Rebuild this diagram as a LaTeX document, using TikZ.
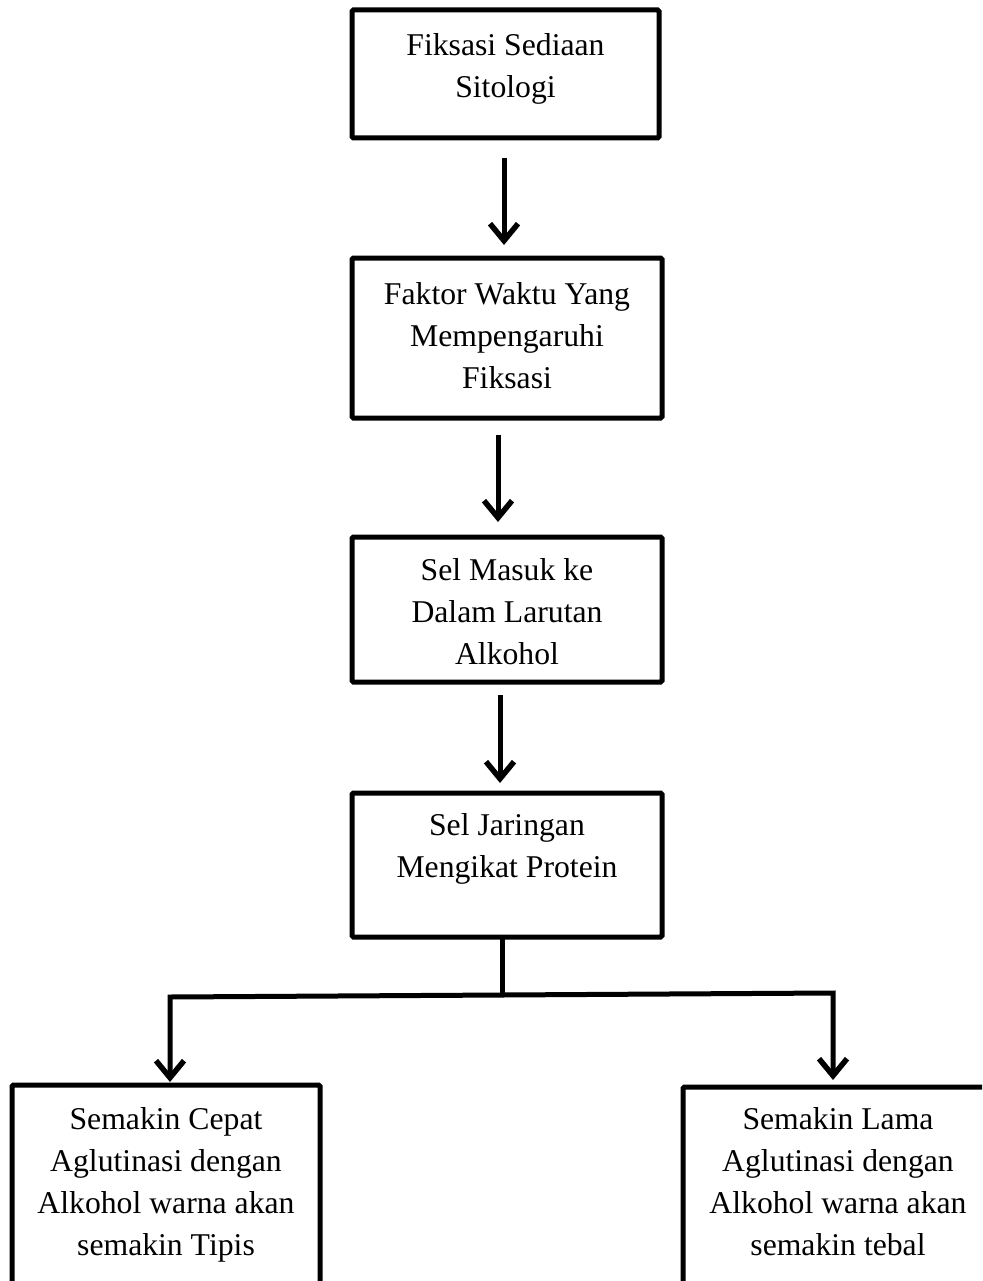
\documentclass[tikz,border=0pt]{standalone}
\usepackage{fontspec}
\setmainfont{Liberation Serif}
\usetikzlibrary{arrows.meta}
\begin{document}
\begin{tikzpicture}[x=1pt,y=-1pt,
  box/.style={draw, line width=5pt, inner sep=0pt, outer sep=0pt, rounded corners=1.5pt},
  txt/.style={align=center, font=\fontsize{31.7}{42}\selectfont, inner sep=0pt},
  arr/.style={line width=5pt, line join=miter,
    -{Straight Barb[length=17pt,width=28pt,line width=5.5pt]}},
  plain/.style={line width=5pt, line join=miter}]
\useasboundingbox (0,0) rectangle (982,1281);
\clip (0,0) rectangle (982,1281);

% boxes
\node[box, minimum width=307pt, minimum height=128pt] (b1) at (505.5,74) {};
\node[box, minimum width=310pt, minimum height=160pt] (b2) at (507,338) {};
\node[box, minimum width=310pt, minimum height=145pt] (b3) at (507,609.5) {};
\node[box, minimum width=310pt, minimum height=144pt] (b4) at (507,865) {};
\node[box, minimum width=308pt, minimum height=235pt] (b5) at (166,1202.5) {};
\node[box, minimum width=310pt, minimum height=233pt] (b6) at (838,1203.5) {};

% texts
\node[txt] (t1) at (505.5,69) {Fiksasi Sediaan\\Sitologi};
\node[txt] (t2) at (507,336) {Faktor Waktu Yang\\Mempengaruhi\\Fiksasi};
\node[txt] (t3) at (507,612) {Sel Masuk ke\\Dalam Larutan\\Alkohol};
\node[txt] (t4) at (507,849) {Sel Jaringan\\Mengikat Protein};
\node[txt] (t5) at (166,1185) {Semakin Cepat\\Aglutinasi dengan\\Alkohol warna akan\\semakin Tipis};
\node[txt] (t6) at (838,1182) {Semakin Lama\\Aglutinasi dengan\\Alkohol warna akan\\semakin tebal};

% straight arrows
\draw[arr, shorten <=20pt, shorten >=13pt] ([xshift=-1.5pt]b1.south) -- ([xshift=-3pt]b2.north);
\draw[arr, shorten <=17pt, shorten >=15pt] ([xshift=-9pt]b2.south) -- ([xshift=-9pt]b3.north);
\draw[arr, shorten <=13pt, shorten >=10pt] ([xshift=-7pt]b3.south) -- ([xshift=-7pt]b4.north);

% branching
\coordinate (jm) at (502,995);
\coordinate (jl) at (170,997);
\coordinate (jr) at (833,993);
\draw[plain] (b4.south -| jm) -- (jm);
\draw[arr, shorten >=3pt] (jm) -- (jl) -- (jl |- b5.north);
\draw[arr, shorten >=7pt] (jm) -- (jr) -- (jr |- b6.north);
\end{tikzpicture}
\end{document}
